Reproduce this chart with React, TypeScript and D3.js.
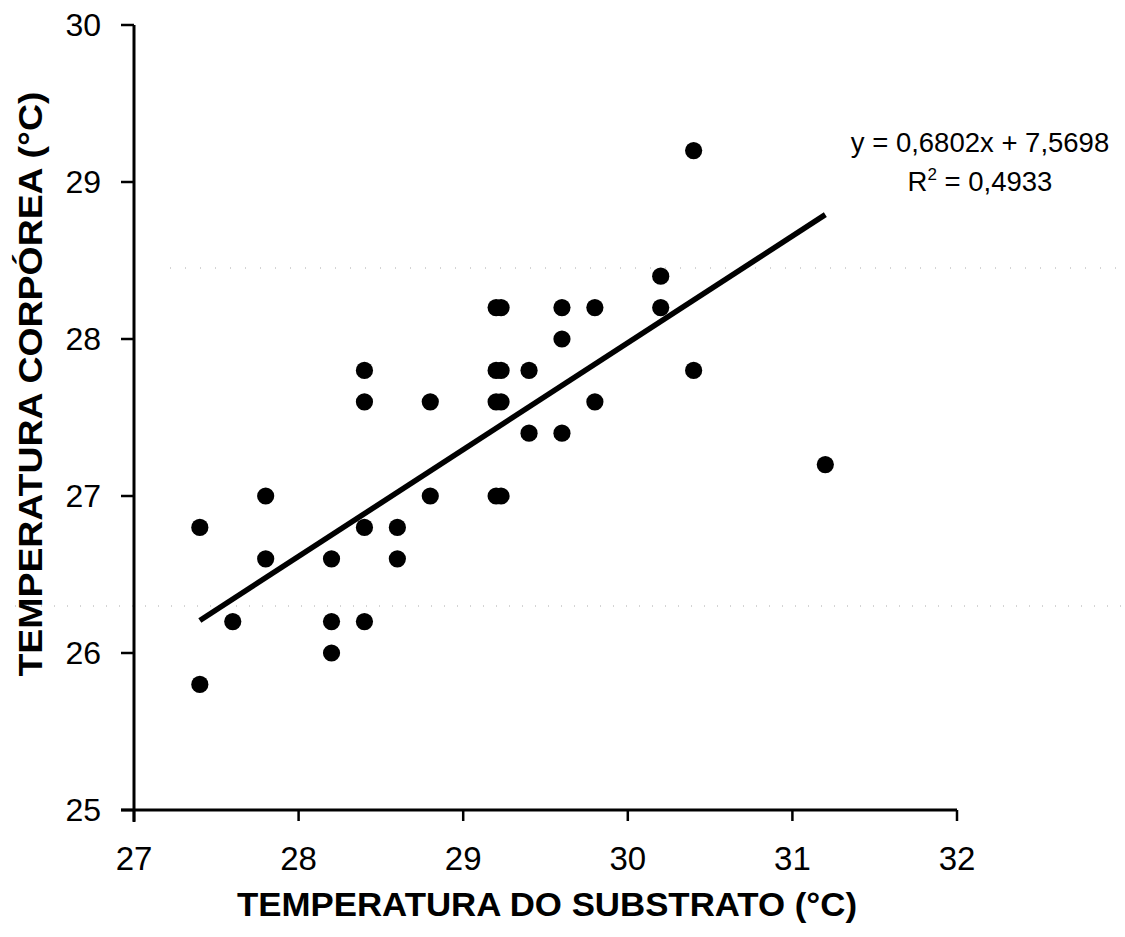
import React from "react";
import * as d3 from "d3";

// Substrate temperature (°C) for each observation
const substrateTemp: number[] = [
  27.4, 27.4, 27.6, 27.8, 27.8, 28.2, 28.2, 28.2, 28.4, 28.4, 28.4, 28.4,
  28.6, 28.6, 28.8, 28.8, 29.2, 29.23, 29.2, 29.23, 29.2, 29.23, 29.2, 29.23,
  29.4, 29.4, 29.6, 29.6, 29.6, 29.8, 29.8, 30.2, 30.2, 30.4, 30.4, 31.2,
];

// Body temperature (°C) for each observation
const bodyTemp: number[] = [
  26.8, 25.8, 26.2, 27.0, 26.6, 26.6, 26.2, 26.0, 27.8, 27.6, 26.8, 26.2,
  26.8, 26.6, 27.6, 27.0, 28.2, 28.2, 27.8, 27.8, 27.6, 27.6, 27.0, 27.0,
  27.8, 27.4, 28.2, 28.0, 27.4, 28.2, 27.6, 28.4, 28.2, 29.2, 27.8, 27.2,
];

// Linear fit reported on the chart
const slope = 0.6802;
const intercept = 7.5698;
const rSquared = 0.4933;

const xTicks: number[] = [27, 28, 29, 30, 31, 32];
const yTicks: number[] = [25, 26, 27, 28, 29, 30];

const xTitle = "TEMPERATURA DO SUBSTRATO (°C)";
const yTitle = "TEMPERATURA CORPÓREA (°C)";

const fmt = (v: number) => v.toFixed(4).replace(".", ",");

export default function App() {
  const width = 1125;
  const height = 937;
  const x = d3.scaleLinear().domain([27, 32]).range([134, 957]);
  const y = d3.scaleLinear().domain([25, 30]).range([810, 25]);

  const points = substrateTemp.map((sx, i) => ({ sx, by: bodyTemp[i] }));
  const xMin = d3.min(substrateTemp) as number;
  const xMax = d3.max(substrateTemp) as number;
  const fitLine = d3
    .line<number>()
    .x((v) => x(v))
    .y((v) => y(slope * v + intercept))([xMin, xMax]);

  const font = "'Liberation Sans', Arial, sans-serif";

  return (
    <svg
      width={width}
      height={height}
      style={{ position: "absolute", left: 0, top: 0, background: "#fff" }}
      fontFamily={font}
    >
      <rect width={width} height={height} fill="#fff" />

      {/* faint dotted scan lines */}
      <line x1={170} x2={1125} y1={268} y2={268} stroke="#aaa" strokeWidth={1} strokeDasharray="1 14" />
      <line x1={15} x2={1125} y1={606} y2={606} stroke="#aaa" strokeWidth={1} strokeDasharray="1 12" />

      {/* axes */}
      <line x1={x(27)} x2={x(27)} y1={y(30)} y2={y(25) + 12} stroke="#000" strokeWidth={3} />
      <line x1={x(27) - 13} x2={x(32)} y1={y(25)} y2={y(25)} stroke="#000" strokeWidth={3} />

      {yTicks.map((t) => (
        <g key={`yt${t}`}>
          <line x1={x(27) - 13} x2={x(27)} y1={y(t)} y2={y(t)} stroke="#000" strokeWidth={2.5} />
          <text x={101} y={y(t)} dy="0.35em" textAnchor="end" fontSize={32}>
            {t}
          </text>
        </g>
      ))}

      {xTicks.map((t) => (
        <g key={`xt${t}`}>
          <line x1={x(t)} x2={x(t)} y1={y(25)} y2={y(25) + 11} stroke="#000" strokeWidth={2.5} />
          <text x={x(t)} y={870} textAnchor="middle" fontSize={33}>
            {t}
          </text>
        </g>
      ))}

      {/* fitted line */}
      <path d={fitLine ?? ""} fill="none" stroke="#000" strokeWidth={5.5} />

      {/* observations */}
      {points.map((p, i) => (
        <circle key={i} cx={x(p.sx)} cy={y(p.by)} r={8.6} fill="#000" />
      ))}

      {/* equation */}
      <text x={980} y={152} textAnchor="middle" fontSize={27.5}>
        {`y = ${fmt(slope)}x + ${fmt(intercept)}`}
      </text>
      <text x={980} y={191} textAnchor="middle" fontSize={27.5}>
        <tspan>R</tspan>
        <tspan dy={-11} fontSize={17}>2</tspan>
        <tspan dy={11}>{` = ${fmt(rSquared)}`}</tspan>
      </text>

      {/* axis titles */}
      <text
        x={547}
        y={916}
        textAnchor="middle"
        fontSize={34}
        fontWeight="bold"
        textLength={620}
        lengthAdjust="spacingAndGlyphs"
      >
        {xTitle}
      </text>
      <text
        transform={`translate(42, 384) rotate(-90)`}
        textAnchor="middle"
        fontSize={34}
        fontWeight="bold"
        textLength={585}
        lengthAdjust="spacingAndGlyphs"
      >
        {yTitle}
      </text>
    </svg>
  );
}
